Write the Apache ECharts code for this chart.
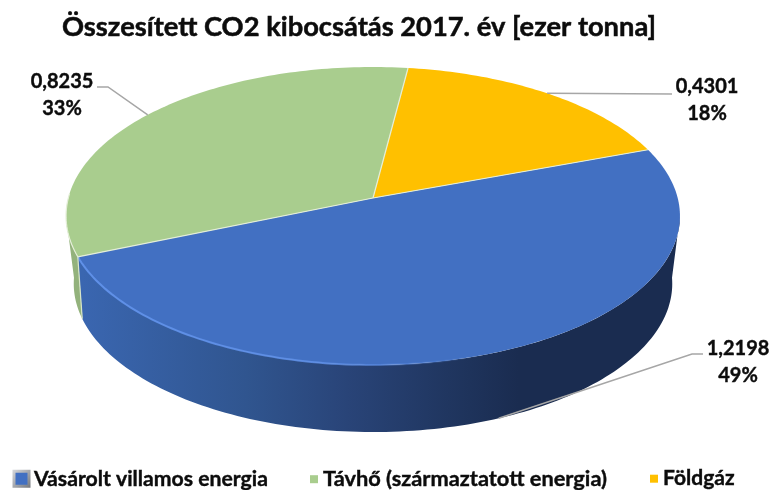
<!DOCTYPE html>
<html><head><meta charset="utf-8">
<script src="https://cdn.jsdelivr.net/npm/echarts@6/dist/echarts.min.js"></script>
<style>html,body{margin:0;padding:0;background:#fff}#c{width:773px;height:490px}</style>
</head><body><div id="c"></div>
<script>
const titleText = 'Összesített CO2 kibocsátás 2017. év [ezer tonna]';
const categories = ['Vásárolt villamos energia', 'Távhő (származtatott energia)', 'Földgáz'];
const values = [1.2198, 0.8235, 0.4301];
const valueLabels = ['1,2198', '0,8235', '0,4301'];
const percentLabels = ['49%', '33%', '18%'];
const colors = ['#4270C2', '#A9CD8E', '#FFC000'];

const FONT = 'Lato';
const INK = '#0c0c0c';
const START = -20 * Math.PI / 180;
const total = values.reduce((a, b) => a + b, 0);
const TOP = {cx: 373, cy: 198, R: 304.7, B: 146.8, k: -0.1208};
const BOT = {cx: 373, cy: 260, R: 295.4, B: 144.5, k: -0.16};
const FRONT0 = Math.asin(0.1208), FRONT1 = Math.PI - FRONT0;
function proj(p, a) {
  const c = Math.cos(a), s = Math.sin(a), w = 1 + p.k * s;
  return [p.cx + p.R * c / w, p.cy + p.B * s / w];
}
function arc(p, a0, a1) {
  const n = Math.max(2, Math.ceil(Math.abs(a1 - a0) / 0.02)), out = [];
  for (let i = 0; i <= n; i++) out.push(proj(p, a0 + (a1 - a0) * i / n));
  return out;
}
const wallFills = [
  {type:'linear',global:true,x:82,y:0,x2:672,y2:0,colorStops:[
    {offset:0,color:'#3A66B0'},{offset:0.28,color:'#30558F'},{offset:0.45,color:'#294478'},{offset:0.62,color:'#203660'},{offset:0.74,color:'#1A2C50'},{offset:1,color:'#1A2C50'}]},
  '#93B27C', '#B38600'
];
const labelPos = [
  {x: 738, y: 362, anchor: 'bot', elbow: [[692, 354], [703, 354]]},
  {x: 62, y: 95, anchor: 'top', elbow: [[108, 87], [97, 87]]},
  {x: 707, y: 100, anchor: 'top', elbow: [[672, 94]]}
];
function makeRender(idx) {
  return function (params, api) {
    const before = values.slice(0, idx).reduce((a, b) => a + b, 0);
    const a0 = START + before / total * 2 * Math.PI;
    const a1 = a0 + api.value(0) / total * 2 * Math.PI;
    const mid = (a0 + a1) / 2;
    const rimT = arc(TOP, a0, a1);
    const kids = [];
    const lo = Math.max(a0, FRONT0), hi = Math.min(a1, FRONT1);
    if (hi > lo) {
      kids.push({type:'polygon', z2: 1, shape:{points: arc(TOP, lo, hi).concat(arc(BOT, hi, lo))},
        style:{fill: wallFills[idx]}});
    }
    kids.push({type:'polygon', z2: 10, shape:{points: [[TOP.cx, TOP.cy]].concat(rimT)},
      style:{fill: colors[idx]}});
    kids.push({type:'polyline', z2: 11, shape:{points: [proj(TOP, a0), [TOP.cx, TOP.cy]]},
      style:{fill:'none', stroke:'#E4EED8', lineWidth: 1.2}});
    if (idx === 1) {
      kids.push({type:'polyline', z2: 11, shape:{points: [proj(TOP, a0), proj(BOT, a0)]},
        style:{fill:'none', stroke:'#D8E6C8', lineWidth: 1.2}});
      kids.push({type:'polyline', z2: 11, shape:{points: arc(TOP, a0, a0 + 0.42)},
        style:{fill:'none', stroke:'#E4EED8', lineWidth: 1.2}});
    }
    if (idx === 0) {
      kids.push({type:'polyline', z2: 11, shape:{points: arc(TOP, a1, a1 - 1.5)},
        style:{fill:'none', lineWidth: 2, stroke:{type:'linear',x:0,y:0,x2:1,y2:0,colorStops:[
          {offset:0,color:'#5F90E8'},{offset:0.6,color:'rgba(95,144,232,0.85)'},{offset:1,color:'rgba(95,144,232,0)'}]}}});
    }
    const lp = labelPos[idx];
    const anchor = proj(lp.anchor === 'bot' ? BOT : TOP, mid);
    const line = [anchor].concat(lp.elbow);
    kids.push({type:'polyline', z2: 12, shape:{points: line},
      style:{fill:'none', stroke:'#A6A6A6', lineWidth: 1.5}});
    kids.push({type:'text', z2: 13, x: lp.x, y: lp.y,
      style:{text: valueLabels[idx] + '\n' + percentLabels[idx], fill:INK, stroke:INK, lineWidth:0.4, align:'center', verticalAlign:'middle',
        font:'bold 20px ' + FONT, lineHeight: 27}});
    return {type:'group', children: kids};
  };
}
const chart = echarts.init(document.getElementById('c'), null, {renderer:'canvas'});
const legendText = size => ({fontFamily:FONT, fontWeight:'bold', fontSize:size, color:INK, textBorderColor:INK, textBorderWidth:0.4});
const legendCommon = {orient:'horizontal', top: 468, icon:'rect', selectedMode:false, padding:0};
chart.setOption({
  animation:false,
  backgroundColor:'#fff',
  title:{text:titleText, left:57, top:9,
    textStyle:{fontFamily:FONT, fontWeight:'bold', fontSize:27.3, color:INK, textBorderColor:INK, textBorderWidth:0.5}},
  legend:[
    Object.assign({}, legendCommon, {data:[categories[0]], left:12.5, itemWidth:15, itemHeight:15, itemGap:4.5, textStyle:legendText(21.2),
      itemStyle:{color:colors[0], borderColor:{type:'linear',x:0,y:0,x2:1,y2:1,colorStops:[{offset:0,color:'#D6D8DC'},{offset:1,color:'#74777D'}]}, borderWidth:3}}),
    Object.assign({}, legendCommon, {data:[categories[1]], left:310, itemWidth:8, itemHeight:8, itemGap:8, textStyle:legendText(21.8), itemStyle:{borderWidth:0}}),
    Object.assign({}, legendCommon, {data:[categories[2]], left:650, itemWidth:8, itemHeight:8, itemGap:11, textStyle:legendText(21), itemStyle:{borderWidth:0}})
  ],
  series: categories.map((name, i) => ({
    type:'custom', name, coordinateSystem:'none', silent:true,
    itemStyle:{color:colors[i]},
    renderItem: makeRender(i),
    data:[[values[i]]], clip:false
  }))
});
</script></body></html>
